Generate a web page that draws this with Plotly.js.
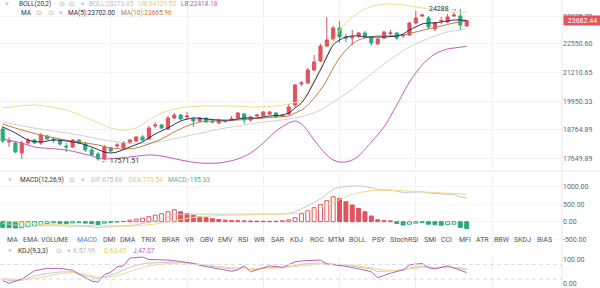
<!DOCTYPE html>
<html><head><meta charset="utf-8">
<script src="https://cdn.plot.ly/plotly-3.0.1.min.js"></script>
<style>html,body{margin:0;padding:0;background:#fff;}#chart{width:600px;height:288px;}</style>
</head><body><div id="chart"></div>
<script>
// ---------- candles ----------
const open = [18802,18289,18250,17865,18250,18366,18250,18524,18406,18366,
 18134,18095,18366,18211,17979,17827,17638,18057,18134,18057,
 18250,18327,18485,18406,18924,18964,18802,19248,19372,19290,
 19207,19126,19248,19126,19045,19126,19166,19248,19414,19166,
 19331,19331,19414,19455,19331,19414,19790,20696,20740,21321,
 21735,22441,22778,23319,22876,22827,22925,23072,22876,22537,
 22827,23047,23072,22925,22974,23569,23923,23821,23269,23669,
 23619,23923,23923,23419];
const high = [18924,18485,18327,18327,18445,18406,18643,18564,18485,18406,
 18250,18406,18406,18289,18057,17903,18173,18095,18250,18327,
 18406,18524,18564,18924,19085,19004,19331,19455,19414,19496,
 19290,19290,19290,19166,19207,19166,19331,19496,19455,19331,
 19414,19538,19538,19496,19414,19832,20696,20828,21413,22016,
 22537,23872,23419,23669,23023,23219,23121,23170,22925,22827,
 23170,23219,23121,22974,23619,24179,24026,23923,23619,23872,
 24026,24128,24288,23719];
const low = [18250,18095,17865,17638,18173,18211,18173,18366,18250,18134,
 17903,18057,18211,17903,17752,17571.51,17600,17903,18057,17979,
 18211,18289,18327,18366,18843,18802,18762,19207,19166,19166,
 18883,19085,19045,19045,19004,19045,19126,19207,19004,19085,
 19290,19290,19372,19248,19290,19372,19706,20608,20696,21276,
 21689,22394,22681,22585,22633,22489,22827,22827,22441,22489,
 22778,22925,22729,22827,22925,23519,23872,23269,23170,23519,
 23569,23872,23219,23369];
const close = [18327,18327,17903,18250,18366,18250,18564,18406,18366,18211,
 18095,18366,18250,17979,17790,17638,18095,17941,18173,18250,
 18366,18485,18366,18843,18964,18843,19248,19372,19207,19331,
 19126,19248,19085,19085,19166,19106,19207,19455,19166,19290,
 19372,19496,19496,19290,19352,19706,20652,20740,21321,21689,
 22441,22729,23319,22876,22827,22876,23072,22876,22585,22778,
 23121,23072,22827,22950,23569,23821,23974,23369,23569,23694,
 23872,23974,23469,23682.44];

// ---------- overlays (read at sample candles) ----------
const ma5Idx = [0,2,4,6,8,10,12,14,16,17,18,20,22,24,26,28,30,32,34,36,38,40,42,44,45,46,47,48,49,50,51,52,53,54,55,56,57,58,60,62,63,64,65,66,67,68,69,70,71,73];
const ma5 = [18883,18643,18366,18289,18366,18327,18250,18095,17903,17865,17903,18095,18289,18604,18843,19126,19248,19207,19166,19166,19248,19248,19331,19372,19455,19663,19875,20260,20784,21321,21922,22489,22729,22876,22925,22925,22876,22876,22876,22925,23023,23219,23369,23519,23569,23569,23619,23669,23719,23702.00];
const ma10Idx = [0,3,6,9,12,15,17,19,21,23,25,27,29,31,33,35,37,39,41,43,45,46,47,48,49,50,51,52,53,54,55,56,57,59,61,63,65,67,69,71,73];
const ma10 = [19004,18762,18564,18406,18289,18173,18057,18018,18057,18211,18406,18683,18924,19085,19126,19126,19166,19207,19248,19290,19331,19455,19579,19790,20087,20432,20872,21413,21875,22250,22537,22729,22827,22925,22925,22974,23121,23269,23419,23569,23665.96];
const bollUpIdx = [0,5,10,14,17,19,21,23,25,28,32,36,40,43,45,47,49,51,53,55,57,59,61,63,65,67,69,71,73];
const bollUp = [19663,19790,19579,19166,18843,18762,18843,19166,19455,19663,19748,19748,19706,19748,19832,20001,20872,22016,23219,23872,24282,24491,24543,24491,24387,24282,24230,24128,24129.53];
const bollMidIdx = [0,4,8,12,16,20,23,26,29,32,35,38,41,44,46,48,50,52,54,56,58,60,62,64,66,68,70,72,73];
const bollMid = [19085,18883,18722,18564,18366,18250,18250,18366,18524,18683,18843,18964,19085,19166,19248,19372,19579,19917,20260,20696,21141,21597,22016,22394,22681,22925,23121,23219,23273.85];
const bollLoIdx = [0,3,5,10,14,15,16,20,23,25,28,31,34,37,39,41,43,45,46,47,48,49,50,51,52,53,54,55,56,58,60,62,64,66,68,70,71,73];
const bollLo = [18406,18250,18095,17979,17752,17676,17638,17714,17790,17752,17600,17489,17489,17638,17865,18250,18722,19045,19126,19004,18722,18366,18057,17790,17600,17526,17526,17600,17752,18289,18883,19790,20784,21551,22063,22298,22346,22418.18];

// ---------- MACD ----------
const macdHist = [-164,-172,-181,-172,-144,-115,-86,-57,-34,-46,
 -57,-37,-29,-40,-57,-86,-43,-20,-9,11,
 43,72,101,144,187,230,287,345,287,230,
 187,144,115,86,63,46,34,29,23,20,
 17,14,11,14,26,52,115,230,316,402,
 489,604,718,670,575,480,382,287,164,57,
 29,23,-49,-95,-72,-43,-23,-72,-86,-101,
 -86,-72,-164,-195.33];
const dif = [-48,-73.5,-100.6,-117.6,-121.6,-121.5,-117.8,-110.4,-103.1,-114.9,
 -127.5,-122.1,-121.7,-132.2,-147.8,-173.1,-157,-148,-143.6,-132.2,
 -110.8,-87.3,-60.2,-20.7,24.2,74.4,138.8,210.9,217.8,218.1,
 220,216.5,216.4,212.6,209,206.3,204.5,205.6,205.5,206.5,
 207.1,207.4,207.3,210.5,219.8,239.3,285.2,371.4,453.9,547.2,
 651.8,784.8,931.5,991.3,1015.7,1028.2,1026.9,1015.3,974.3,927.9,
 917.5,917.4,875.3,840.4,842.9,852,859.1,825.6,807.9,787.8,
 784.6,782.6,716.1,675.88];
const dea = [34,12.5,-10.1,-31.6,-49.6,-64,-74.8,-81.9,-86.1,-91.9,
 -99,-103.6,-107.2,-112.2,-119.3,-130.1,-135.5,-138,-139.1,-137.7,
 -132.3,-123.3,-110.7,-92.7,-69.3,-40.6,-4.7,38.4,74.3,103.1,
 126.5,144.5,158.9,169.6,177.5,183.3,187.5,191.1,194,196.5,
 198.6,200.4,201.8,203.5,206.8,213.3,227.7,256.4,295.9,346.2,
 407.3,482.8,572.5,656.3,728.2,788.2,835.9,871.8,892.3,899.4,
 903,905.9,899.8,887.9,878.9,873.5,870.6,861.6,850.9,838.3,
 827.6,818.6,798.1,773.54];

// ---------- KDJ (read at sample candles) ----------
const kIdx = [0,1,3,5,7,9,11,13,15,16,18,20,22,23,26,28,30,32,34,36,38,39,42,44,46,47,50,51,54,56,58,59,61,63,64,66,68,70,72,73];
const kVal = [20,14,17,33,43,49,50,33,21,30,45,69,82,85,89,88,84,76,69,61,67,59,67,67,76,81,87,82,77,70,61,51,52,56,66,73,66,70,63,57.99];
const dIdx = [0,1,3,5,7,9,11,13,15,16,18,20,22,24,26,28,30,32,34,36,38,40,42,44,47,50,52,54,56,58,60,62,64,66,68,70,72,73];
const dVal = [25,20,16,22,32,42,47,40,28,26,33,50,68,78,84,86,84,78,72,66,64,63,64,66,74,82,82,79,74,66,57,55,60,67,68,68,67,63.45];
const jIdx = [0,1,3,5,7,9,11,12,14,15,16,17,18,19,20,22,23,26,28,30,31,34,36,37,38,39,42,44,46,47,50,51,54,56,58,59,61,63,64,66,67,68,69,70,72,73];
const jVal = [14,3,20,54,64,64,56,40,12,8,38,48,70,74,106,110,100,98,92,84,76,62,52,58,74,50,74,68,90,94,98,82,72,62,50,26,44,58,78,84,66,62,68,74,56,47.07];

const mainTicks = [17649.89,18764.89,19950.33,21210.65,22550.60,23875.70];
const tabs = ['MA','EMA','VOLUME','MACD','DMI','DMA','TRIX','BRAR','VR','OBV','EMV','RSI','WR','SAR','KDJ','ROC','MTM','BOLL','PSY','StochRSI','SMI','CCI','MFI','ATR','BBW','SKDJ','BIAS'];

// ---------- drawing ----------
const W = 600, H = 288;
const FONT = 'Roboto, "Liberation Sans", Arial, sans-serif';
const RED = '#e2525f', GREEN = '#2eab7a';
const idx = close.map((_, i) => i);
const XR = [-0.425, 88.0];
const XDOM = [0, 562 / W];
const last = close[close.length - 1];

const traces = [];
const lineT = (x, y, color, ax, shape) => ({type:'scatter', mode:'lines', x, y, xaxis:ax[0], yaxis:ax[1],
  line:{color, width:1, shape: shape || 'spline', smoothing:0.8}, hoverinfo:'skip'});

traces.push(lineT(bollUpIdx, bollUp, '#f2dc86', ['x','y']));
traces.push(lineT(bollMidIdx, bollMid, '#d2d2d2', ['x','y']));
traces.push(lineT(bollLoIdx, bollLo, '#c25bbd', ['x','y']));
traces.push(lineT(ma10Idx, ma10, '#c27a3e', ['x','y']));
traces.push(lineT(ma5Idx, ma5, '#2b2a5e', ['x','y']));
traces.push({type:'candlestick', x: idx, open, high, low, close, xaxis:'x', yaxis:'y',
  increasing:{line:{color:RED, width:1}, fillcolor:RED},
  decreasing:{line:{color:GREEN, width:1}, fillcolor:GREEN},
  whiskerwidth:0, hoverinfo:'skip'});

// MACD histogram: hollow when rising vs previous bar
const barCol = macdHist.map(v => v >= 0 ? RED : GREEN);
const barFill = macdHist.map((v, i) => (i > 0 && v > macdHist[i-1]) ? '#ffffff' : barCol[i]);
traces.push({type:'bar', x: idx, y: macdHist, xaxis:'x2', yaxis:'y2', width:0.62,
  marker:{color: barFill, line:{color: barCol, width:1}}, hoverinfo:'skip'});
traces.push(lineT(idx, dif, '#c9c9c9', ['x2','y2'], 'linear'));
traces.push(lineT(idx, dea, '#f0dc8c', ['x2','y2'], 'linear'));

traces.push(lineT(kIdx, kVal, '#c8c8c8', ['x3','y3'], 'linear'));
traces.push(lineT(dIdx, dVal, '#f0dc8c', ['x3','y3'], 'linear'));
traces.push(lineT(jIdx, jVal, '#b862b4', ['x3','y3'], 'linear'));

const xax = (anchor) => ({domain: XDOM, range: XR, anchor, showticklabels:false, ticks:'',
  tickmode:'array', tickvals:[17,29,41,53,65,77], showgrid:true, gridcolor:'#f1f1f1', gridwidth:1,
  zeroline:false, showline:false, fixedrange:true, rangeslider:{visible:false}});

const tickFont = {family: FONT, size: 7, color: '#666'};
const layout = {
  width: W, height: H, margin:{l:0, r:0, t:0, b:0}, paper_bgcolor:'#fff', plot_bgcolor:'#fff',
  showlegend:false, bargap:0,
  xaxis: xax('y'), xaxis2: Object.assign(xax('y2'), {matches:'x'}), xaxis3: Object.assign(xax('y3'), {matches:'x'}),
  yaxis: {type:'log', domain:[1 - 170/H, 1], range:[Math.log10(17229), Math.log10(24752)], side:'right', anchor:'x',
    tickmode:'array', tickvals: mainTicks, ticktext: mainTicks.map(v => v.toFixed(2)), tickfont: tickFont,
    showgrid:true, gridcolor:'#f3f3f3', zeroline:false, showline:false, ticks:'', fixedrange:true, ticklabeloverflow:'allow'},
  yaxis2: {domain:[1 - 246/H, 1 - 176/H], range:[-698, 1313], side:'right', anchor:'x2',
    tickmode:'array', tickvals:[-500,0,500,1000], ticktext:['-500.00','0.00','500.00','1000.00'], tickfont: tickFont,
    showgrid:true, gridcolor:'#f5f5f5', zeroline:false, showline:false, ticks:'', fixedrange:true, ticklabeloverflow:'allow'},
  yaxis3: {domain:[0, 1 - 255/H], range:[-16.3, 118.4], side:'right', anchor:'x3',
    tickmode:'array', tickvals:[0,100], ticktext:['0.00','100.00'], tickfont: tickFont,
    showgrid:false, zeroline:false, showline:false, ticks:'', fixedrange:true, ticklabeloverflow:'allow'},
  shapes: [
    {type:'line', xref:'paper', yref:'y', x0:0, x1:562/W, y0:Math.log10(last), y1:Math.log10(last),
      line:{color:'#e2656f', width:1, dash:'3px,2px'}},
    {type:'line', xref:'paper', yref:'y3', x0:0, x1:562/W, y0:80, y1:80, line:{color:'#dcdcdc', width:1, dash:'4px,3px'}},
    {type:'line', xref:'paper', yref:'y3', x0:0, x1:562/W, y0:20, y1:20, line:{color:'#dcdcdc', width:1, dash:'4px,3px'}},
    {type:'line', xref:'paper', yref:'paper', x0:0, x1:1, y0:1 - 171/H, y1:1 - 171/H, line:{color:'#e8e8e8', width:1}},
    {type:'line', xref:'paper', yref:'paper', x0:562/W, x1:562/W, y0:0, y1:1, line:{color:'#e8e8e8', width:1}}
  ],
  annotations: []
};

const A = layout.annotations;
function note(xp, yp, text, color, size) {
  A.push({xref:'paper', yref:'paper', x: xp / W, y: 1 - yp / H, xanchor:'left', yanchor:'middle',
    text, showarrow:false, borderpad:0, font:{family: FONT, size: size || 6.5, color}});
}
const L = a => a[a.length - 1].toFixed(2);
// header 1: BOLL
note(4, 3.5, '˅', '#999'); note(18, 3.5, 'BOLL(20,2)', '#333'); note(58, 3.5, '⊙', '#b0b0b0'); note(68, 3.5, '⊙', '#b0b0b0'); note(80, 3.5, '×', '#b0b0b0');
note(88, 3.5, 'BOLL:' + L(bollMid), '#bdbdbd'); note(138, 3.5, 'UB:' + L(bollUp), '#e8cc55'); note(180, 3.5, 'LB:' + L(bollLo), '#c25bbd');
// header 2: MA
note(20, 13.3, 'MA', '#333'); note(35, 13.3, '⊙', '#b0b0b0'); note(47, 13.3, '⊙', '#b0b0b0'); note(58, 13.3, '×', '#b0b0b0');
note(67, 13.3, 'MA(5):' + L(ma5), '#2b2a5e'); note(120, 13.3, 'MA(10):' + L(ma10), '#c27a3e');
// MACD header
note(7, 180, '˅', '#999'); note(19, 180, 'MACD(12,26,9)', '#333'); note(68, 180, '⊙', '#b0b0b0'); note(80, 180, '×', '#b0b0b0');
note(90, 180, 'DIF:' + L(dif), '#bdbdbd'); note(128, 180, 'DEA:' + L(dea), '#e8cc55'); note(167, 180, 'MACD:' + L(macdHist), '#4fb39a');
// tabs
const tabX = [6,22,40,76,102,119,140,161,184,199,217,237,253,270,289,309,327,348,371,389,423,440,458,475,493,513,536];
tabs.forEach((t, i) => note(tabX[i], 240, t, t === 'MACD' ? '#4a86e8' : '#555', 7));
// KDJ header
note(7, 251, '˅', '#999'); note(17, 251, 'KDJ(9,3,3)', '#333'); note(55, 251, '⊙', '#b0b0b0'); note(66, 251, '×', '#b0b0b0');
note(72, 251, 'K:' + L(kVal), '#bdbdbd'); note(103, 251, 'D:' + L(dVal), '#e8cc55'); note(132, 251, 'J:' + L(jVal), '#c25bbd');

// high / low markers
const hiI = high.indexOf(Math.max(...high)), loI = low.indexOf(Math.min(...low));
A.push({xref:'x', yref:'y', x: hiI, y: Math.log10(high[hiI]), xanchor:'right', yanchor:'middle', xshift:-1,
  text: Math.round(high[hiI]) + ' →', showarrow:false, font:{family:FONT, size:7, color:'#333'}});
A.push({xref:'x', yref:'y', x: loI, y: Math.log10(low[loI]), xanchor:'left', yanchor:'middle', xshift:1,
  text: '← ' + low[loI].toFixed(2), showarrow:false, font:{family:FONT, size:7, color:'#333'}});
// last price tag
A.push({xref:'paper', yref:'y', x: 562.5 / W, y: Math.log10(last), xanchor:'left', yanchor:'middle',
  text: last.toFixed(2), showarrow:false, bgcolor:'#e2525f', width:37, height:9, borderpad:0,
  font:{family:FONT, size:7, color:'#fff'}});

Plotly.newPlot('chart', traces, layout, {staticPlot:true, displayModeBar:false});
</script></body></html>
